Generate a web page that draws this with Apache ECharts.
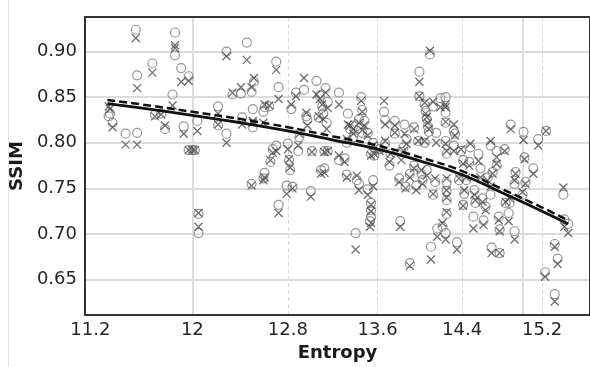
<!DOCTYPE html>
<html>
<head>
<meta charset="utf-8">
<script src="https://cdn.jsdelivr.net/npm/echarts@6/dist/echarts.min.js"></script>
<style>html,body{margin:0;padding:0;background:#fff}#c{width:590px;height:367px}</style>
</head>
<body>
<div id="c"></div>
<script>
// Entropy of each sample, and the SSIM values of the two methods (circles, crosses)
const entropy = [
11.35,11.34,11.37,11.47,11.56,11.55,11.56,11.68,11.70,11.75,11.78,11.84,11.86,11.86,11.91,11.97,11.93,12.04,11.97,12.00,12.02,12.05,12.05,
12.21,12.21,12.28,12.28,12.45,12.33,12.40,12.49,12.51,12.41,12.50,12.50,12.59,12.60,12.64,12.70,12.72,12.83,12.87,12.94,13.05,12.97,
12.67,12.70,12.65,12.60,12.59,12.49,12.72,12.79,12.84,13.00,12.80,12.81,12.82,12.89,12.90,13.01,13.09,13.12,13.08,13.10,13.11,12.96,13.07,
13.13,13.15,13.14,13.25,13.33,13.15,13.12,13.25,13.30,13.32,13.41,13.43,13.51,13.56,13.54,13.54,13.54,13.53,13.40,13.46,13.43,13.38,13.48,
13.35,13.45,13.51,13.56,13.54,13.57,13.62,13.66,13.67,13.71,13.76,13.76,13.85,13.87,13.84,13.82,13.80,13.86,13.81,13.90,13.94,13.98,14.04,
13.99,13.99,14.09,13.94,13.90,13.96,14.01,14.02,14.04,14.05,14.06,14.07,14.08,14.12,14.15,14.19,14.10,14.16,14.12,14.14,14.06,13.67,13.72,
13.32,13.38,13.46,
14.24,14.24,14.24,14.32,14.33,14.24,14.25,14.32,14.39,14.41,14.47,14.25,14.25,14.25,14.25,14.21,14.24,14.35,14.37,14.41,14.44,14.42,14.52,
14.51,14.53,14.58,14.60,14.63,14.68,14.68,14.70,14.69,14.77,14.74,14.74,14.82,14.76,14.77,14.86,14.83,14.92,14.87,14.88,14.92,14.93,15.01,
15.02,15.03,15.11,15.16,15.24,15.00,15.42,15.43,15.47,15.33,15.36,15.23,15.33,14.61,14.48,14.56,14.65
];
const ssimCircle = [
0.832,0.829,0.822,0.810,0.811,0.924,0.874,0.887,0.831,0.832,0.815,0.853,0.921,0.896,0.882,0.873,0.818,0.824,0.792,0.792,0.792,0.722,0.701,
0.840,0.819,0.810,0.900,0.910,0.853,0.854,0.856,0.867,0.828,0.837,0.817,0.834,0.839,0.840,0.889,0.861,0.837,0.855,0.858,0.868,0.825,
0.793,0.797,0.779,0.767,0.761,0.755,0.732,0.753,0.752,0.747,0.799,0.781,0.770,0.791,0.806,0.791,0.770,0.791,0.852,0.840,0.832,0.829,0.828,
0.860,0.845,0.822,0.855,0.832,0.791,0.772,0.781,0.783,0.765,0.759,0.755,0.749,0.759,0.734,0.726,0.719,0.714,0.701,0.836,0.826,0.819,0.824,
0.815,0.850,0.811,0.800,0.788,0.786,0.793,0.834,0.825,0.775,0.824,0.810,0.820,0.804,0.795,0.790,0.761,0.752,0.714,0.668,0.817,0.802,0.800,
0.851,0.878,0.897,0.775,0.766,0.753,0.766,0.759,0.842,0.835,0.826,0.818,0.812,0.840,0.811,0.849,0.686,0.706,0.743,0.757,0.770,0.799,0.788,
0.800,0.806,0.811,
0.850,0.833,0.822,0.813,0.810,0.802,0.788,0.797,0.791,0.781,0.779,0.757,0.747,0.737,0.722,0.708,0.701,0.691,0.759,0.732,0.759,0.744,0.748,
0.719,0.734,0.772,0.739,0.730,0.743,0.797,0.768,0.685,0.679,0.791,0.775,0.793,0.719,0.705,0.723,0.734,0.703,0.734,0.820,0.755,0.768,0.812,
0.784,0.757,0.772,0.804,0.813,0.743,0.743,0.716,0.711,0.689,0.673,0.658,0.634,0.715,0.795,0.788,0.762
];
const ssimCross = [
0.837,0.840,0.817,0.798,0.798,0.915,0.860,0.877,0.829,0.831,0.819,0.841,0.907,0.904,0.867,0.868,0.810,0.813,0.792,0.792,0.792,0.723,0.708,
0.832,0.820,0.800,0.895,0.891,0.855,0.861,0.861,0.871,0.820,0.822,0.824,0.822,0.842,0.841,0.880,0.848,0.842,0.851,0.871,0.853,0.819,
0.789,0.791,0.781,0.762,0.759,0.753,0.723,0.744,0.750,0.741,0.793,0.782,0.773,0.797,0.810,0.790,0.766,0.790,0.848,0.842,0.826,0.833,0.829,
0.855,0.838,0.815,0.842,0.820,0.791,0.767,0.786,0.779,0.762,0.764,0.748,0.743,0.752,0.732,0.725,0.712,0.708,0.683,0.834,0.822,0.815,0.819,
0.819,0.846,0.808,0.797,0.786,0.788,0.791,0.846,0.820,0.779,0.819,0.811,0.810,0.799,0.791,0.781,0.757,0.750,0.708,0.665,0.815,0.802,0.802,
0.851,0.867,0.901,0.772,0.762,0.748,0.770,0.755,0.844,0.832,0.828,0.822,0.815,0.845,0.800,0.839,0.672,0.697,0.744,0.761,0.764,0.802,0.788,
0.804,0.810,0.814,
0.842,0.839,0.823,0.820,0.808,0.799,0.791,0.791,0.793,0.777,0.775,0.761,0.748,0.740,0.724,0.712,0.694,0.683,0.761,0.731,0.762,0.748,0.743,
0.706,0.737,0.762,0.735,0.726,0.752,0.802,0.766,0.679,0.679,0.784,0.777,0.791,0.715,0.703,0.714,0.735,0.694,0.739,0.815,0.759,0.766,0.803,
0.782,0.755,0.766,0.797,0.813,0.746,0.751,0.708,0.701,0.686,0.667,0.653,0.626,0.710,0.799,0.780,0.759
];
// Fitted trend curves
const fitEntropy = [11.33, 11.6, 12.0, 12.4, 12.8, 13.2, 13.6, 14.0, 14.4, 14.8, 15.2, 15.47];
const fitSolid   = [0.843, 0.838, 0.830, 0.822, 0.813, 0.803, 0.793, 0.780, 0.765, 0.745, 0.725, 0.711];
const fitDashed  = [0.847, 0.842, 0.834, 0.826, 0.817, 0.807, 0.797, 0.784, 0.769, 0.749, 0.729, 0.715];
// Axis ticks
const xTicks = [11.2, 12, 12.8, 13.6, 14.4, 15.2];
const xMajorGrid = [12, 15];
const yTicks = [0.65, 0.70, 0.75, 0.80, 0.85, 0.90];

const zip = (a, b) => a.map((v, i) => [v, b[i]]);
const chart = echarts.init(document.getElementById('c'), null, {renderer: 'canvas'});
const font = "'DejaVu Sans', sans-serif";
chart.setOption({
  animation: false,
  backgroundColor: '#fff',
  graphic: [{type: 'line', shape: {x1: 8.5, y1: 0, x2: 8.5, y2: 367}, style: {stroke: '#e4e4e4', lineWidth: 1}, z: 0}],
  grid: {left: 85, top: 17, right: -9, bottom: 49, show: true, borderColor: '#333', borderWidth: 2, backgroundColor: 'transparent', z: 10},
  xAxis: {
    type: 'log', min: 11.16, max: 15.7,
    name: 'Entropy', nameLocation: 'middle', nameGap: 28,
    nameTextStyle: {fontFamily: font, fontWeight: 'bold', fontSize: 18, color: '#1a1a1a'},
    axisLine: {show: false}, axisTick: {show: false}, splitLine: {show: false},
    axisLabel: {customValues: xTicks, fontFamily: font, fontSize: 18, color: '#262626', margin: 6,
      formatter: v => String(+(+v).toFixed(1))}
  },
  yAxis: {
    type: 'value', min: 0.611, max: 0.938,
    name: 'SSIM', nameLocation: 'middle', nameGap: 54, nameRotate: 90,
    nameTextStyle: {fontFamily: font, fontWeight: 'bold', fontSize: 18, color: '#1a1a1a'},
    axisLine: {show: false}, axisTick: {show: false}, splitLine: {show: false},
    axisLabel: {customValues: yTicks, fontFamily: font, fontSize: 18, color: '#262626', margin: 8,
      formatter: v => (+v).toFixed(2)}
  },
  series: [
    {
      type: 'scatter', data: zip(entropy, ssimCircle), z: 3, silent: true,
      symbol: 'circle', symbolSize: 9,
      itemStyle: {color: 'rgba(0,0,0,0)', borderColor: '#7c7c7c', borderWidth: 1.2},
      markLine: {
        silent: true, symbol: 'none', label: {show: false}, animation: false, z: 1,
        data: [
          ...yTicks.map(v => ({yAxis: v, lineStyle: {color: '#dcdcdc', width: 2, type: 'solid'}})),
          ...xTicks.slice(2).map(v => ({xAxis: v, lineStyle: {color: '#d8d8d8', width: 1, type: [4, 3]}})),
          ...xMajorGrid.map(v => ({xAxis: v, lineStyle: {color: '#dcdcdc', width: 2, type: 'solid'}}))
        ]
      }
    },
    {
      type: 'scatter', data: zip(entropy, ssimCross), z: 4, silent: true,
      symbol: 'path://M0,0L10,10M10,0L0,10', symbolSize: 8,
      itemStyle: {color: 'rgba(0,0,0,0)', borderColor: '#4a4a4a', borderWidth: 1.3}
    },
    {
      type: 'line', data: zip(fitEntropy, fitDashed), z: 5, smooth: true, symbol: 'none', silent: true,
      lineStyle: {color: '#111', width: 2.5, type: [8, 4]}
    },
    {
      type: 'line', data: zip(fitEntropy, fitSolid), z: 6, smooth: true, symbol: 'none', silent: true,
      lineStyle: {color: '#111', width: 2.8}
    }
  ]
});
</script>
</body>
</html>
